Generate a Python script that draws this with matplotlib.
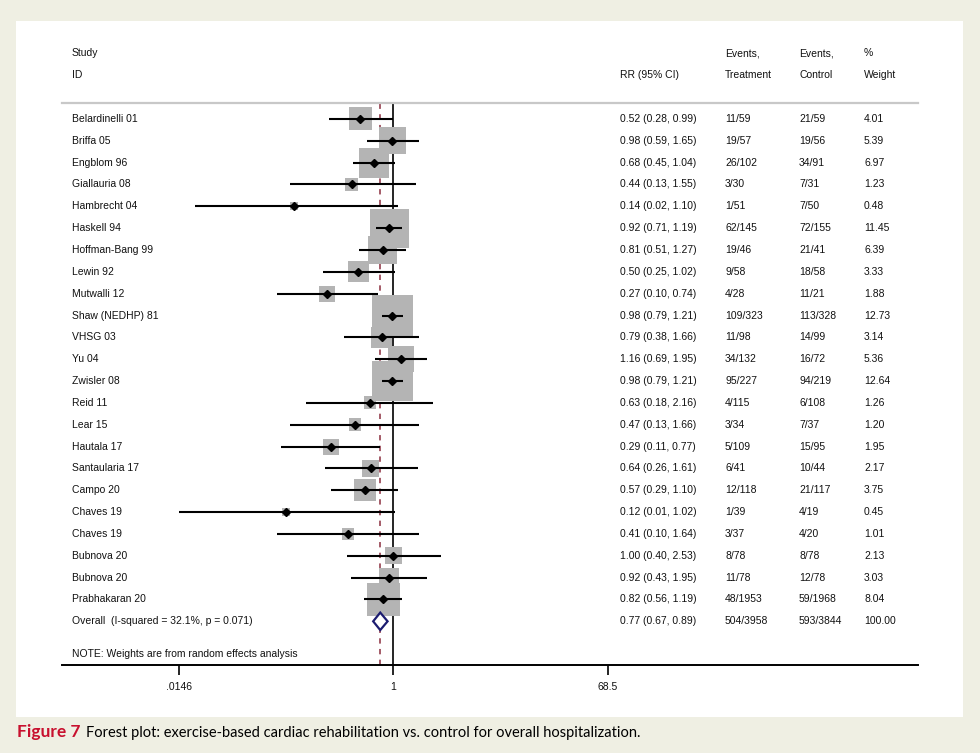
import numpy as np
import matplotlib
matplotlib.use("Agg")
import matplotlib.pyplot as plt
from matplotlib.patches import Polygon

# Study data
studies = ["Belardinelli 01", "Briffa 05", "Engblom 96", "Giallauria 08", "Hambrecht 04",
           "Haskell 94", "Hoffman-Bang 99", "Lewin 92", "Mutwalli 12", "Shaw (NEDHP) 81",
           "VHSG 03", "Yu 04", "Zwisler 08", "Reid 11", "Lear 15", "Hautala 17",
           "Santaularia 17", "Campo 20", "Chaves 19", "Chaves 19", "Bubnova 20",
           "Bubnova 20", "Prabhakaran 20"]
rr = [0.52, 0.98, 0.68, 0.44, 0.14, 0.92, 0.81, 0.50, 0.27, 0.98, 0.79, 1.16, 0.98,
      0.63, 0.47, 0.29, 0.64, 0.57, 0.12, 0.41, 1.00, 0.92, 0.82]
lo = [0.28, 0.59, 0.45, 0.13, 0.02, 0.71, 0.51, 0.25, 0.10, 0.79, 0.38, 0.69, 0.79,
      0.18, 0.13, 0.11, 0.26, 0.29, 0.01, 0.10, 0.40, 0.43, 0.56]
hi = [0.99, 1.65, 1.04, 1.55, 1.10, 1.19, 1.27, 1.02, 0.74, 1.21, 1.66, 1.95, 1.21,
      2.16, 1.66, 0.77, 1.61, 1.10, 1.02, 1.64, 2.53, 1.95, 1.19]
ev_treat = ["11/59", "19/57", "26/102", "3/30", "1/51", "62/145", "19/46", "9/58", "4/28",
            "109/323", "11/98", "34/132", "95/227", "4/115", "3/34", "5/109", "6/41",
            "12/118", "1/39", "3/37", "8/78", "11/78", "48/1953"]
ev_ctrl = ["21/59", "19/56", "34/91", "7/31", "7/50", "72/155", "21/41", "18/58", "11/21",
           "113/328", "14/99", "16/72", "94/219", "6/108", "7/37", "15/95", "10/44",
           "21/117", "4/19", "4/20", "8/78", "12/78", "59/1968"]
weight = [4.01, 5.39, 6.97, 1.23, 0.48, 11.45, 6.39, 3.33, 1.88, 12.73, 3.14, 5.36, 12.64,
          1.26, 1.20, 1.95, 2.17, 3.75, 0.45, 1.01, 2.13, 3.03, 8.04]

overall_rr, overall_lo, overall_hi = 0.77, 0.67, 0.89
overall_label = "Overall  (I-squared = 32.1%, p = 0.071)"
overall_treat, overall_ctrl, overall_w = "504/3958", "593/3844", "100.00"

tick_vals = [0.0146, 1, 68.5]
tick_labels = [".0146", "1", "68.5"]

plt.rcParams["font.family"] = ["Liberation Sans", "DejaVu Sans"]
fs = 7.5
txt_color = "#111111"

fig = plt.figure(figsize=(9.8, 7.53), dpi=100)
fig.patch.set_facecolor("#efefe3")
# white panel behind the plot
fig.patches.append(plt.Rectangle((16 / 980, 1 - 717 / 753), (963 - 16) / 980, (717 - 21) / 753,
                                 transform=fig.transFigure, facecolor="white",
                                 edgecolor="none", zorder=-10))

ax = fig.add_axes([62 / 980, 1 - 665 / 753, 856 / 980, 562 / 753])
ax.set_zorder(1)
ax.set_facecolor("none")
ax.set_xscale("log")
ax.set_xlim(np.exp(-6.532), np.exp(10.335))
ax.set_ylim(25, -0.73)

n = len(studies)
rows = np.arange(n)
xmin_clip = 0.0146

# boxes
ax.scatter(rr, rows, s=[68 * w for w in weight], marker="s", color="#b4b4b4",
           linewidths=0, zorder=2)
# confidence intervals
for i in range(n):
    ax.plot([max(lo[i], xmin_clip), hi[i]], [i, i], color="black", lw=1.5,
            solid_capstyle="butt", zorder=3)
ax.plot(rr, rows, "D", color="black", ms=4.5, zorder=4)

# reference lines
ax.axvline(1, color="black", lw=1.2, zorder=1)
ax.axvline(overall_rr, color="#8c2d3f", lw=1.1, ls=(0, (3.5, 3.5)), zorder=1)

# overall diamond
orow = n
dia = Polygon([[overall_lo, orow], [overall_rr, orow - 0.4], [overall_hi, orow],
               [overall_rr, orow + 0.4]], closed=True, facecolor="white",
              edgecolor="#1c1c70", lw=1.6, zorder=5)
ax.add_patch(dia)

# text columns
tr = ax.get_yaxis_transform()
cx = [(72 - 62) / 856, (620 - 62) / 856, (725 - 62) / 856, (799 - 62) / 856, (864 - 62) / 856]


def put(x, y, s):
    ax.text(x, y, s, transform=tr, va="center", fontsize=fs, color=txt_color)


for i in range(n):
    put(cx[0], i, studies[i])
    put(cx[1], i, f"{rr[i]:.2f} ({lo[i]:.2f}, {hi[i]:.2f})")
    put(cx[2], i, ev_treat[i])
    put(cx[3], i, ev_ctrl[i])
    put(cx[4], i, f"{weight[i]:.2f}")

put(cx[0], orow, overall_label)
put(cx[1], orow, f"{overall_rr:.2f} ({overall_lo:.2f}, {overall_hi:.2f})")
put(cx[2], orow, overall_treat)
put(cx[3], orow, overall_ctrl)
put(cx[4], orow, overall_w)
put(cx[0], 24.5, "NOTE: Weights are from random effects analysis")

# header
put(cx[0], -3, "Study")
put(cx[0], -2, "ID")
put(cx[1], -2, "RR (95% CI)")
put(cx[2], -3, "Events,")
put(cx[2], -2, "Treatment")
put(cx[3], -3, "Events,")
put(cx[3], -2, "Control")
put(cx[4], -3, "%")
put(cx[4], -2, "Weight")

# axes styling
for s in ["left", "right"]:
    ax.spines[s].set_visible(False)
ax.spines["top"].set_color("#c8c8c8")
ax.spines["top"].set_linewidth(1.6)
ax.spines["bottom"].set_linewidth(1.4)
ax.set_yticks([])
ax.set_xticks(tick_vals)
ax.set_xticklabels(tick_labels)
ax.minorticks_off()
ax.tick_params(axis="x", length=7, width=1.2, pad=5, labelsize=fs, labelcolor=txt_color)

# caption
t1 = fig.text(17 / 980, 1 - 737 / 753, "Figure 7", fontsize=12.5, fontweight="bold",
              color="#c8102e", family=["Lato", "DejaVu Sans"], va="baseline")
fig.canvas.draw()
bb = t1.get_window_extent()
fig.text(bb.x1 / 980 + 5 / 980, 1 - 737 / 753,
         "Forest plot: exercise-based cardiac rehabilitation vs. control for overall hospitalization.",
         fontsize=10.5, color="black", family=["Lato", "DejaVu Sans"], va="baseline")

fig.savefig("out.png", dpi=100, facecolor=fig.get_facecolor())
